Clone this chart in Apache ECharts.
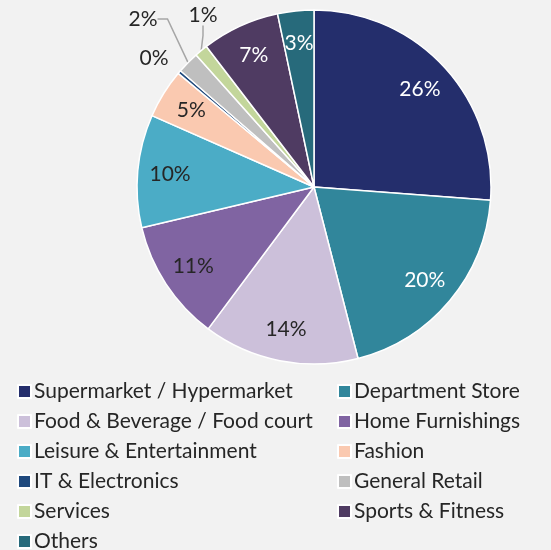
<!DOCTYPE html>
<html>
<head>
<meta charset="utf-8">
<script src="https://cdn.jsdelivr.net/npm/echarts@6/dist/echarts.min.js"></script>
<style>
  html, body { margin: 0; padding: 0; background: #f2f2f2; }
  #chart { width: 551px; height: 550px; }
</style>
</head>
<body>
<div id="chart"></div>
<script>
// share of floor area by category, clockwise from 12 o'clock
const categories = [
  'Supermarket / Hypermarket', 'Department Store', 'Food & Beverage / Food court',
  'Home Furnishings', 'Leisure & Entertainment', 'Fashion', 'IT & Electronics',
  'General Retail', 'Services', 'Sports & Fitness', 'Others'
];
const shares = [26.2, 19.8, 14.2, 11.1, 10.3, 4.5, 0.3, 2.0, 1.2, 7.1, 3.3];

const colors = ['#242e6c', '#31869b', '#ccc0da', '#8064a2', '#4bacc6', '#fac9b0',
  '#1f497d', '#bfbfbf', '#c3d69b', '#4f3b62', '#276a7b'];
const labelColors = ['#fff', '#fff', '#262626', '#262626', '#262626', '#262626',
  '#262626', '#262626', '#262626', '#fff', '#fff'];
// labels that sit outside the pie (index -> [x, y])
const outsideLabels = { 6: [154, 58], 7: [143, 19], 8: [203, 15] };

const leftCol = [0, 2, 4, 6, 8, 10].map(i => categories[i]);
const rightCol = [1, 3, 5, 7, 9].map(i => categories[i]);

var chart = echarts.init(document.getElementById('chart'));

var fullData = categories.map((c, i) => ({
  name: c, value: shares[i], itemStyle: { color: colors[i] }
}));
var labelData = categories.map((c, i) => {
  var out = outsideLabels[i] !== undefined;
  return {
    name: c,
    value: shares[i],
    label: { position: out ? 'outside' : 'inside', color: labelColors[i] },
    labelLine: { show: out && i !== 6 }
  };
});

var legendBase = {
  orient: 'vertical',
  icon: 'rect',
  itemWidth: 13,
  itemHeight: 13,
  itemGap: 9,
  height: 220,
  textStyle: { fontFamily: 'Lato', fontSize: 21, color: '#262626', padding: [0, 0, 0, -2] },
  selectedMode: false
};

var option = {
  backgroundColor: '#f2f2f2',
  animation: false,
  legend: [
    Object.assign({}, legendBase, { left: 12, top: 376, data: leftCol }),
    Object.assign({}, legendBase, { left: 332, top: 376, data: rightCol })
  ],
  series: [
    {
      type: 'pie',
      center: [314, 187],
      radius: [0, 177],
      startAngle: 90,
      silent: true,
      label: { show: false },
      labelLine: { show: false },
      itemStyle: { borderColor: '#fff', borderWidth: 1.5 },
      data: fullData
    },
    {
      // transparent ring that carries the labels at ~0.8 of the radius
      type: 'pie',
      center: [314, 187],
      radius: [106, 177],
      startAngle: 90,
      silent: true,
      avoidLabelOverlap: false,
      itemStyle: { color: 'rgba(0,0,0,0)', borderWidth: 0 },
      label: {
        show: true,
        fontFamily: 'Lato',
        fontSize: 21,
        formatter: p => Math.round(p.value) + '%'
      },
      labelLine: { length: 10, length2: 10, lineStyle: { color: '#a6a6a6', width: 1.5 } },
      labelLayout: function (p) {
        var pos = outsideLabels[p.dataIndex];
        if (!pos) return {};
        return { x: pos[0], y: pos[1], align: 'center', verticalAlign: 'middle' };
      },
      data: labelData
    }
  ]
};

chart.setOption(option);
</script>
</body>
</html>
